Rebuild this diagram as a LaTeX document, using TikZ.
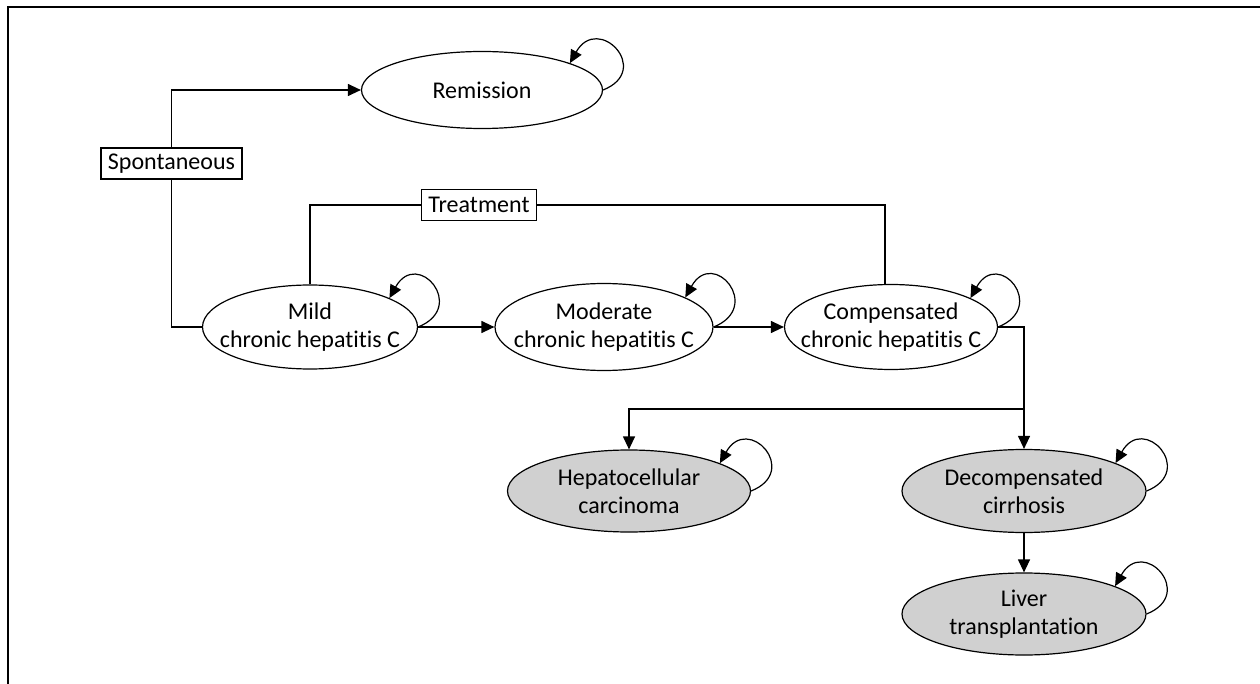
\documentclass[tikz,border=0pt]{standalone}
\usepackage{fontspec}
\setmainfont{Carlito}[RawFeature={-liga}]
\usetikzlibrary{arrows.meta,shapes.geometric}
\definecolor{stategray}{RGB}{208,208,208}
\begin{document}
\begin{tikzpicture}[x=1pt,y=-1pt,
  txt/.style={font=\fontsize{24}{28}\selectfont},
  st/.style={ellipse, draw, line width=1.2pt, inner sep=0pt, fill=white},
  gst/.style={st, fill=stategray},
  lbl/.style={txt, align=center, inner sep=0pt},
  tag/.style={txt, draw, line width=1.2pt, fill=white, inner xsep=7pt, inner ysep=0pt, minimum height=31pt},
  con/.style={line width=1.2pt},
  arr/.style={con, -{Triangle[length=13pt,width=12pt]}}]
\useasboundingbox (0,0) rectangle (1260,684);
\fill[white] (0,0) rectangle (1260,684);
% frame
\draw[line width=1.5pt] (1260,7) -- (8,7) -- (8,684);
% states
\node[st, minimum width=241pt, minimum height=77pt, label={[lbl]center:Remission}] (rem) at (482,90) {};
\node[st, minimum width=215pt, minimum height=84pt, label={[lbl]center:{Mild\\chronic hepatitis C}}] (mild) at (310,327) {};
\node[st, minimum width=218pt, minimum height=87pt, label={[lbl]center:{Moderate\\chronic hepatitis C}}] (mod) at (604,327) {};
\node[st, minimum width=213pt, minimum height=85pt, label={[lbl]center:{Compensated\\chronic hepatitis C}}] (comp) at (891,327) {};
\node[gst, minimum width=243pt, minimum height=82pt, label={[lbl]center:{Hepatocellular\\carcinoma}}] (hcc) at (629,491) {};
\node[gst, minimum width=244pt, minimum height=83pt, label={[lbl]center:{Decompensated\\cirrhosis}}] (dec) at (1024,491) {};
\node[gst, minimum width=244pt, minimum height=82pt, label={[lbl]center:{Liver\\transplantation}}] (liver) at (1024,614) {};
% label boxes
\node[tag] (spont) at (171.5,163.5) {Spontaneous};
\node[tag] (treat) at (479,205) {Treatment};
% connectors
\draw[con] (mild.west) -| (spont.south);
\draw[arr] (spont.north) |- (rem.west);
\draw[con] (mild.north) |- (treat.west);
\draw[con] (treat.east) -| ([xshift=-6pt]comp.north);
\draw[arr] (mild.east) -- (mod.west);
\draw[arr] (mod.east) -- (comp.west);
\draw[arr] (comp.east) -| (dec.north);
\coordinate (junc) at (1024,409);
\draw[arr] (junc) -| (hcc.north);
\draw[arr] (dec.south) -- (liver.north);
% self loops
\draw[arr] (rem.east) .. controls +(50,-20) and +(28,-50) .. (rem.17);
\draw[arr] (mild.east) .. controls +(50,-20) and +(28,-50) .. (mild.20);
\draw[arr] (mod.east) .. controls +(50,-20) and +(28,-50) .. (mod.20);
\draw[arr] (comp.east) .. controls +(50,-20) and +(28,-50) .. (comp.20);
\draw[arr] (hcc.east) .. controls +(50,-20) and +(28,-50) .. (hcc.17.5);
\draw[arr] (dec.east) .. controls +(50,-20) and +(28,-50) .. (dec.17.5);
\draw[arr] (liver.east) .. controls +(50,-20) and +(28,-50) .. (liver.17.5);
\end{tikzpicture}
\end{document}
